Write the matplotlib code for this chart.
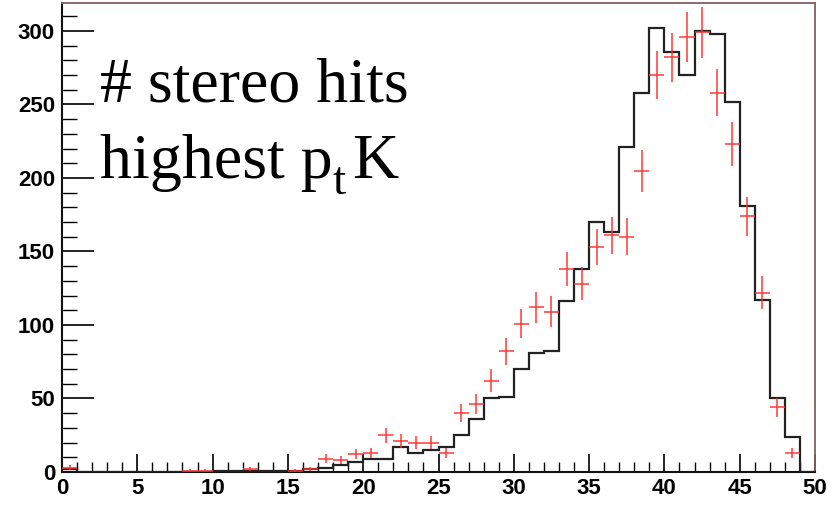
import numpy as np
import matplotlib
matplotlib.use("Agg")
import matplotlib.pyplot as plt
from matplotlib.ticker import MultipleLocator

# Number of stereo hits, one-unit bins from 0 to 50
bin_edges = np.arange(0, 51, 1)

# Reference distribution (black step histogram)
hist_counts = [2, 0, 0, 0, 0, 0, 0, 0, 0, 0,
               1, 1, 1, 1, 1, 1, 2, 3, 5, 7,
               9, 9, 17, 13, 15, 17, 25, 36, 50, 51,
               70, 81, 82, 116, 138, 170, 163, 221, 258, 302,
               286, 270, 300, 298, 252, 181, 117, 50, 24, 0]

# Comparison sample (red points with errors)
point_counts = [3, 0, 0, 0, 0, 0, 0, 0, 1, 1,
                0, 0, 2, 0, 0, 1, 2, 9, 8, 12,
                13, 25, 21, 20, 20, 13, 40, 46, 62, 82,
                101, 112, 109, 138, 128, 153, 161, 160, 205, 270,
                282, 296, 299, 258, 223, 174, 122, 44, 13, 0]

x_min, x_max = 0, 50
y_max = 319

W, H = 834, 507
fig = plt.figure(figsize=(W / 100, H / 100), dpi=100)
ax = fig.add_axes([62 / W, 35 / H, (815 - 62) / W, (472 - 3) / H])

edges = np.asarray(bin_edges, dtype=float)
hvals = np.asarray(hist_counts, dtype=float)
ax.stairs(hvals, edges, color="#222222", lw=1.6, zorder=3)

pvals = np.asarray(point_counts, dtype=float)
centers = 0.5 * (edges[:-1] + edges[1:])
mask = pvals > 0
ax.errorbar(centers[mask], pvals[mask], yerr=np.sqrt(pvals[mask]), xerr=0.5,
            fmt="none", ecolor="#ff3030", elinewidth=1.4, alpha=0.75,
            capsize=0, zorder=4)

ax.set_xlim(x_min, x_max)
ax.set_ylim(0, y_max)

ax.xaxis.set_major_locator(MultipleLocator(5))
ax.xaxis.set_minor_locator(MultipleLocator(1))
ax.yaxis.set_major_locator(MultipleLocator(50))
ax.yaxis.set_minor_locator(MultipleLocator(10))

ax.tick_params(axis="x", which="major", direction="in", length=13, width=1.2,
               top=False, pad=4)
ax.tick_params(axis="x", which="minor", direction="in", length=7, width=1.0,
               top=False)
ax.tick_params(axis="y", which="major", direction="in", length=23, width=1.2,
               right=False, pad=5)
ax.tick_params(axis="y", which="minor", direction="in", length=11, width=1.0,
               right=False)

for lab in ax.get_xticklabels() + ax.get_yticklabels():
    lab.set_fontfamily("Liberation Sans")
    lab.set_fontweight("bold")
    lab.set_fontsize(16)

for side in ("left", "bottom"):
    ax.spines[side].set_color("#111111")
    ax.spines[side].set_linewidth(1.5)
for side in ("top", "right"):
    ax.spines[side].set_color("#806060")
    ax.spines[side].set_linewidth(1.3)

# Caption, placed in pixel coordinates measured from the top-left corner
serif = "Liberation Serif"
big = 46
small = 34
fig.canvas.draw()
renderer = fig.canvas.get_renderer()


def put(x, y_top, s, size, **kw):
    t = fig.text(x / W, 1 - y_top / H, s, fontsize=size, family=serif,
                 color="black", va="baseline", ha="left", **kw)
    bb = t.get_window_extent(renderer=renderer)
    return x + bb.width


put(100, 102, "# stereo hits", big)
x = put(100, 178, "highest p", big)
x = put(x, 194, "t", small)
put(x + 6, 178, "K", big)

fig.savefig("out.png", dpi=100)
